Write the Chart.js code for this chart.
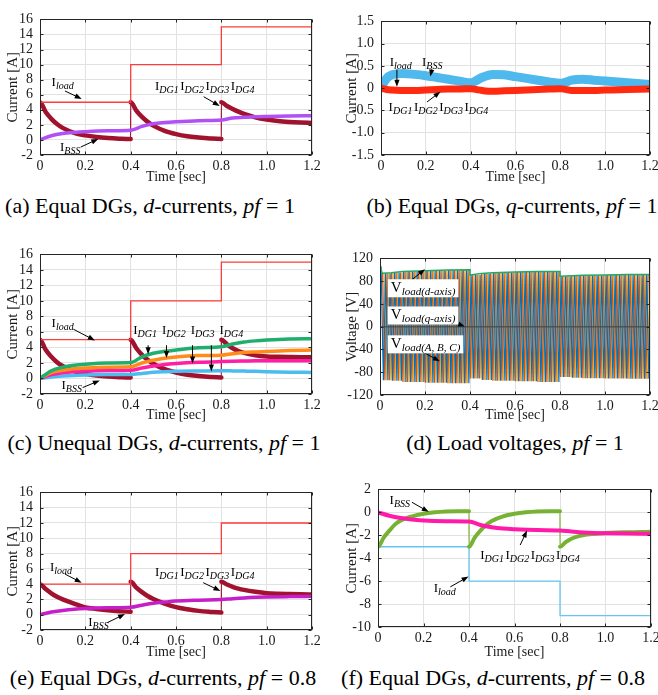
<!DOCTYPE html>
<html>
<head>
<meta charset="utf-8">
<title>DG / BSS currents</title>
<script src="https://cdn.jsdelivr.net/npm/chart.js@4.4.1/dist/chart.umd.min.js"></script>
<style>
  body { margin: 0; width: 658px; height: 695px; position: relative; overflow: hidden; background: #fff; font-family: "Liberation Serif", serif; }
  canvas { position: absolute; }
  .cap { position: absolute; font-size: 22px; line-height: 24px; white-space: nowrap; transform: translateX(-50%); color: #000; }
</style>
</head>
<body>
<canvas id="pa"></canvas>
<canvas id="pb"></canvas>
<canvas id="pc"></canvas>
<canvas id="pd"></canvas>
<canvas id="pe"></canvas>
<canvas id="pf"></canvas>
<div class="cap" style="left:150px;top:194px">(a) Equal DGs, <i>d</i>-currents, <i>pf</i> = 1</div>
<div class="cap" style="left:512px;top:194px">(b) Equal DGs, <i>q</i>-currents, <i>pf</i> = 1</div>
<div class="cap" style="left:164px;top:431px">(c) Unequal DGs, <i>d</i>-currents, <i>pf</i> = 1</div>
<div class="cap" style="left:515px;top:431px">(d) Load voltages, <i>pf</i> = 1</div>
<div class="cap" style="left:163px;top:666px">(e) Equal DGs, <i>d</i>-currents, <i>pf</i> = 0.8</div>
<div class="cap" style="left:493px;top:666px">(f) Equal DGs, <i>d</i>-currents, <i>pf</i> = 0.8</div>
<script>
// ---- time grids [sec] ----
const tStep = [0, 0.4, 0.4, 0.8, 0.8, 1.2];
const tDecay = [0, 0, 0.025, 0.05, 0.075, 0.1, 0.15, 0.2, 0.25, 0.3, 0.35, 0.4,
  0.4, 0.425, 0.45, 0.475, 0.5, 0.55, 0.6, 0.65, 0.7, 0.75, 0.8,
  0.8, 0.825, 0.85, 0.875, 0.9, 0.95, 1.0, 1.05, 1.1, 1.15, 1.2];
const tRise = [0, 0.05, 0.1, 0.15, 0.2, 0.3, 0.4, 0.45, 0.5, 0.55, 0.6, 0.7, 0.8, 0.85, 0.9, 0.95, 1.0, 1.1, 1.2];
const tQ = [0, 0.025, 0.05, 0.1, 0.15, 0.2, 0.25, 0.3, 0.35, 0.4, 0.425, 0.45, 0.5, 0.55, 0.6, 0.65, 0.7, 0.75, 0.8,
  0.825, 0.85, 0.9, 0.95, 1.0, 1.1, 1.2];

// (a) equal DGs, d-currents, pf = 1
const aLoad = [5, 5, 10, 10, 15, 15];
const aBss = [0, 5.0, 3.7, 2.8, 2.1, 1.6, 0.95, 0.6, 0.38, 0.25, 0.17, 0.12,
  5.0, 3.9, 3.05, 2.4, 1.9, 1.2, 0.77, 0.48, 0.32, 0.2, 0.13,
  5.0, 4.5, 4.1, 3.75, 3.45, 3.0, 2.7, 2.5, 2.38, 2.3, 2.25];
const aDg = [0, 0.55, 0.85, 1.0, 1.1, 1.22, 1.3, 1.8, 2.15, 2.3, 2.4, 2.55, 2.65, 2.9, 3.0, 3.08, 3.12, 3.18, 3.2];

// (b) equal DGs, q-currents, pf = 1
const bBss = [0.02, 0.22, 0.3, 0.33, 0.31, 0.28, 0.24, 0.2, 0.16, 0.12,
  0.17, 0.24, 0.31, 0.3, 0.26, 0.22, 0.18, 0.14, 0.11,
  0.14, 0.18, 0.2, 0.18, 0.16, 0.12, 0.08];
const bDg = [0, -0.03, -0.04, -0.05, -0.05, -0.04, -0.03, -0.02, -0.02, -0.01,
  -0.03, -0.05, -0.07, -0.06, -0.05, -0.04, -0.03, -0.02, -0.01,
  -0.03, -0.05, -0.05, -0.05, -0.04, -0.03, -0.02];

// (c) unequal DGs, d-currents, pf = 1
const cLoad = [5, 5, 10, 10, 15, 15];
const cBss = [0, 5.0, 3.7, 2.8, 2.1, 1.6, 0.95, 0.6, 0.38, 0.25, 0.17, 0.12,
  5.0, 3.9, 3.05, 2.4, 1.9, 1.2, 0.77, 0.48, 0.32, 0.2, 0.13,
  5.0, 4.4, 3.9, 3.55, 3.3, 3.0, 2.85, 2.8, 2.77, 2.75, 2.75];
const cDg1 = [0, 1.0, 1.45, 1.7, 1.85, 2.0, 2.05, 2.8, 3.25, 3.5, 3.67, 3.95, 4.08, 4.45, 4.7, 4.85, 4.95, 5.08, 5.12];
const cDg2 = [0, 0.75, 1.05, 1.25, 1.35, 1.45, 1.5, 2.0, 2.35, 2.6, 2.78, 2.95, 3.0, 3.2, 3.35, 3.42, 3.48, 3.6, 3.67];
const cDg3 = [0, 0.5, 0.75, 0.88, 0.95, 1.02, 1.05, 1.35, 1.6, 1.8, 1.92, 2.08, 2.18, 2.22, 2.25, 2.28, 2.3, 2.3, 2.3];
const cDg4 = [0, 0.2, 0.32, 0.4, 0.45, 0.5, 0.52, 0.65, 0.8, 0.88, 0.93, 0.97, 1.0, 0.98, 0.95, 0.92, 0.88, 0.82, 0.78];

// (d) load voltages, pf = 1  (d-axis envelope, q-axis, 50 Hz three phase)
const vT = [0, 0.01, 0.05, 0.1, 0.2, 0.3, 0.4, 0.4, 0.45, 0.5, 0.6, 0.7, 0.8, 0.8, 0.85, 0.9, 1.0, 1.1, 1.2];
const vD = [106, 94, 95, 97, 98.5, 99.5, 100, 91, 93.5, 95, 96, 97, 97, 88.5, 89.5, 90.5, 91, 91.5, 91.5];
const vQ = [0, 0, 0, 0, 0, 0, 0, 0, 0, 0, 0, 0, 0, 0, 0, 0, 0, 0, 0];
const vFreq = 50;

// (e) equal DGs, d-currents, pf = 0.8
const eLoad = [4, 4, 8, 8, 12, 12];
const eBss = [0, 4.0, 3.35, 2.8, 2.35, 2.0, 1.45, 0.95, 0.75, 0.58, 0.46, 0.38,
  4.3, 3.55, 2.95, 2.45, 2.05, 1.45, 1.0, 0.72, 0.5, 0.37, 0.28,
  4.3, 3.95, 3.65, 3.42, 3.25, 3.0, 2.82, 2.74, 2.7, 2.67, 2.65];
const eDg = [0, 0.35, 0.55, 0.7, 0.8, 0.9, 0.97, 1.25, 1.5, 1.65, 1.78, 1.9, 1.98, 2.1, 2.2, 2.27, 2.32, 2.37, 2.4];

// (f) equal DGs, pf = 0.8 (second current set)
const fLoad = [-3, -3, -6, -6, -9, -9];
const fBss = [0, -3.0, -2.2, -1.6, -1.05, -0.7, -0.35, -0.13, 0.0, 0.07, 0.1, 0.1,
  -3.0, -2.2, -1.6, -1.1, -0.75, -0.35, -0.13, 0.0, 0.07, 0.1, 0.1,
  -3.0, -2.6, -2.3, -2.12, -2.0, -1.88, -1.8, -1.76, -1.74, -1.72, -1.7];
const fDg = [0, -0.3, -0.5, -0.62, -0.72, -0.78, -0.8, -1.1, -1.3, -1.42, -1.48, -1.55, -1.58, -1.68, -1.75, -1.8, -1.82, -1.85, -1.87];

// ---- helpers ----
function pts(ts, vs) {
  // a repeated time is a jump: nudge it a hair so the curve stays sortable
  return ts.map((t, i) => ({ x: (i > 0 && t === ts[i - 1]) ? t + 0.0001 : t, y: vs[i] }));
}

function envAt(t) {
  let v = vD[0];
  for (let i = 0; i < vT.length; i++) if (vT[i] <= t) v = vD[i];
  return v;
}

function phasePeaks(shift) {
  const out = [];
  for (let k = 0; ; k++) {
    const t = (0.25 + shift + k * 0.5) / vFreq;
    if (t > 1.2) break;
    out.push({ x: t, y: (k % 2 ? -1 : 1) * envAt(t) });
  }
  return out;
}

function curve(data, color, width) {
  return {
    data, borderColor: color, borderWidth: width, borderCapStyle: 'round', borderJoinStyle: 'round',
    cubicInterpolationMode: 'monotone',
    segment: { borderWidth: c => (c.p1.parsed.x - c.p0.parsed.x < 0.001 ? 1.2 : width) }
  };
}

function step(data, color) {
  return { data, borderColor: color, borderWidth: 1.3, tension: 0, cubicInterpolationMode: 'default' };
}

function drawArrow(ctx, x1, y1, x2, y2) {
  const ang = Math.atan2(y2 - y1, x2 - x1);
  ctx.strokeStyle = '#000';
  ctx.fillStyle = '#000';
  ctx.lineWidth = 1;
  ctx.beginPath();
  ctx.moveTo(x1, y1);
  ctx.lineTo(x2 - 5 * Math.cos(ang), y2 - 5 * Math.sin(ang));
  ctx.stroke();
  ctx.beginPath();
  ctx.moveTo(x2, y2);
  ctx.lineTo(x2 - 7 * Math.cos(ang) + 2.6 * Math.sin(ang), y2 - 7 * Math.sin(ang) - 2.6 * Math.cos(ang));
  ctx.lineTo(x2 - 7 * Math.cos(ang) - 2.6 * Math.sin(ang), y2 - 7 * Math.sin(ang) + 2.6 * Math.cos(ang));
  ctx.closePath();
  ctx.fill();
}

function drawLabel(ctx, px, py, l) {
  const mainF = (l.box ? 15 : 13) + 'px "Liberation Serif"';
  const subF = 'italic ' + (l.box ? 11 : 10) + 'px "Liberation Serif"';
  const gap = l.gap || 1.5;
  let w = 0;
  l.parts.forEach(([m, s], i) => {
    ctx.font = mainF; w += ctx.measureText(m).width;
    ctx.font = subF; w += ctx.measureText(s).width + (i < l.parts.length - 1 ? gap : 0);
  });
  if (l.box) {
    ctx.fillStyle = '#fff';
    ctx.fillRect(px - 3, py - 13, w + 6, 18);
  }
  ctx.fillStyle = '#000';
  ctx.textAlign = 'left';
  ctx.textBaseline = 'alphabetic';
  let cx = px;
  l.parts.forEach(([m, s]) => {
    ctx.font = mainF; ctx.fillText(m, cx, py); cx += ctx.measureText(m).width;
    ctx.font = subF; ctx.fillText(s, cx, py + 3); cx += ctx.measureText(s).width + gap;
  });
}

const notesPlugin = {
  id: 'notes',
  afterDatasetsDraw(chart, args, opts) {
    const { ctx, scales: { x, y } } = chart;
    ctx.save();
    (opts.arrows || []).forEach(a => drawArrow(ctx, x.getPixelForValue(a[0]), y.getPixelForValue(a[1]),
      x.getPixelForValue(a[2]), y.getPixelForValue(a[3])));
    (opts.labels || []).forEach(l => drawLabel(ctx, x.getPixelForValue(l.x), y.getPixelForValue(l.y), l));
    ctx.restore();
  },
  afterDraw(chart) {
    // matlab style box with inward ticks
    const { ctx, chartArea: a, scales: { x, y } } = chart;
    const l = Math.round(a.left) + 0.5, r = Math.round(a.right) - 0.5;
    const t = Math.round(a.top) + 0.5, b = Math.round(a.bottom) - 0.5;
    ctx.save();
    ctx.strokeStyle = '#262626';
    ctx.lineWidth = 1;
    ctx.strokeRect(l, t, r - l, b - t);
    ctx.beginPath();
    x.ticks.forEach(tk => {
      const px = Math.round(x.getPixelForValue(tk.value)) + 0.5;
      ctx.moveTo(px, b); ctx.lineTo(px, b - 3);
      ctx.moveTo(px, t); ctx.lineTo(px, t + 3);
    });
    y.ticks.forEach(tk => {
      const py = Math.round(y.getPixelForValue(tk.value)) + 0.5;
      ctx.moveTo(l, py); ctx.lineTo(l + 3, py);
      ctx.moveTo(r, py); ctx.lineTo(r - 3, py);
    });
    ctx.stroke();
    ctx.restore();
  }
};

const font = { family: '"Liberation Serif", serif', size: 14 };
const dec = v => (Math.abs(v) < 1e-9 ? '0' : v.toFixed(1));
const int = v => String(Math.round(v));

function makePanel(id, box, yAx, datasets, notes) {
  const cv = document.getElementById(id);
  cv.width = box.cr - box.cl;
  cv.height = box.cb - box.ct;
  cv.style.left = box.cl + 'px';
  cv.style.top = box.ct + 'px';
  new Chart(cv, {
    type: 'line',
    data: { datasets },
    options: {
      responsive: false,
      animation: false,
      devicePixelRatio: 1,
      layout: { padding: { left: 0, bottom: 0, top: box.pt - box.ct, right: box.cr - box.pr } },
      elements: { point: { radius: 0 } },
      plugins: { legend: { display: false }, tooltip: { enabled: false }, notes },
      scales: {
        x: {
          type: 'linear', min: 0, max: 1.2,
          afterFit: s => { s.height = box.cb - box.pb; },
          grid: { color: '#e2e2e2', drawTicks: false },
          border: { display: false },
          ticks: { stepSize: 0.2, padding: 3, maxRotation: 0, autoSkip: false, color: '#1a1a1a', font, callback: dec },
          title: { display: true, text: 'Time [sec]', color: '#1a1a1a', padding: 0, font: { family: font.family, size: 14 } }
        },
        y: {
          type: 'linear', min: yAx.min, max: yAx.max,
          afterFit: s => { s.width = box.pl - box.cl; },
          grid: { color: '#e2e2e2', drawTicks: false },
          border: { display: false },
          ticks: { stepSize: yAx.step, padding: 7, autoSkip: false, color: '#1a1a1a', font, callback: yAx.fmt },
          title: { display: true, text: yAx.title, color: '#1a1a1a', padding: 0, font: { family: font.family, size: 15 } }
        }
      }
    },
    plugins: [notesPlugin]
  });
}

const DG4 = [['I', 'DG1'], ['I', 'DG2'], ['I', 'DG3'], ['I', 'DG4']];
const currentAx = { min: -2, max: 16, step: 2, fmt: int, title: 'Current [A]' };
const DARK = '#a0122e';

makePanel('pa', { cl: 4, ct: 4, cr: 325, cb: 186, pl: 40, pt: 14, pr: 312, pb: 155 }, currentAx, [
  step(pts(tStep, aLoad), '#ff3b3b'),
  curve(pts(tRise, aDg), '#b050f5', 3.5),
  curve(pts(tDecay, aBss), DARK, 4.5)
], {
  labels: [
    { x: 0.051, y: 7.15, parts: [['I', 'load']] },
    { x: 0.507, y: 6.64, parts: DG4 },
    { x: 0.088, y: -1.45, parts: [['I', 'BSS']] }
  ],
  arrows: [[0.11, 6.5, 0.184, 5.45], [0.722, 5.74, 0.793, 4.51], [0.18, -0.94, 0.257, 0.13]]
});

makePanel('pb', { cl: 343, ct: 6, cr: 668, cb: 186, pl: 381, pt: 17, pr: 650, pb: 155 },
  { min: -1.5, max: 1.5, step: 0.5, fmt: dec, title: 'Current [A]' }, [
  curve(pts(tQ, bDg), '#ff2a10', 7),
  curve(pts(tQ, bBss), '#4fb8ec', 9)
], {
  labels: [
    { x: 0.039, y: 0.49, parts: [['I', 'load']] },
    { x: 0.183, y: 0.49, parts: [['I', 'BSS']] },
    { x: 0.034, y: -0.52, parts: DG4 }
  ],
  arrows: [[0.071, 0.42, 0.071, 0.03], [0.227, 0.43, 0.22, 0.26], [0.205, -0.31, 0.265, -0.08]]
});

makePanel('pc', { cl: 4, ct: 239, cr: 325, cb: 424, pl: 40, pt: 249, pr: 312, pb: 394 }, currentAx, [
  step(pts(tStep, cLoad), '#ff3b3b'),
  curve(pts(tRise, cDg1), '#1fae6e', 3.5),
  curve(pts(tRise, cDg2), '#ff8c1a', 3.5),
  curve(pts(tRise, cDg3), '#ff1fa5', 3.5),
  curve(pts(tRise, cDg4), '#4cbcf0', 3.5),
  curve(pts(tDecay, cBss), DARK, 4.5)
], {
  labels: [
    { x: 0.051, y: 6.65, parts: [['I', 'load']] },
    { x: 0.411, y: 5.73, parts: DG4, gap: 5 },
    { x: 0.095, y: -1.3, parts: [['I', 'BSS']] }
  ],
  arrows: [[0.147, 6.36, 0.242, 4.91], [0.477, 4.29, 0.477, 3.13], [0.558, 4.29, 0.558, 2.63],
    [0.673, 4.29, 0.673, 1.93], [0.756, 4.29, 0.756, 0.9], [0.188, -1.17, 0.264, -0.26]]
});

makePanel('pd', { cl: 343, ct: 243, cr: 668, cb: 424, pl: 380, pt: 253, pr: 650, pb: 395 },
  { min: -120, max: 120, step: 40, fmt: int, title: 'Voltage [V]' }, [
  { data: pts(vT, vQ), borderColor: 'rgba(70,70,70,0.75)', borderWidth: 1.5, tension: 0 },
  { data: pts(vT, vD), borderColor: '#22a86a', borderWidth: 1.5, tension: 0 },
  { data: phasePeaks(0), borderColor: '#0072bd', borderWidth: 1.2, tension: 0 },
  { data: phasePeaks(1 / 3), borderColor: '#d95319', borderWidth: 1.2, tension: 0 },
  { data: phasePeaks(2 / 3), borderColor: '#edb120', borderWidth: 1.2, tension: 0 }
], {
  labels: [
    { x: 0.048, y: 60.5, parts: [['V', 'load(d-axis)']], box: true },
    { x: 0.048, y: 12.7, parts: [['V', 'load(q-axis)']], box: true },
    { x: 0.048, y: -38, parts: [['V', 'load(A, B, C)']], box: true }
  ],
  arrows: [[0.14, 82, 0.2, 101], [0.295, 12.7, 0.377, 0.3], [0.192, -44.9, 0.266, -60.7]]
});

makePanel('pe', { cl: 4, ct: 477, cr: 325, cb: 661, pl: 40, pt: 487, pr: 312, pb: 630 }, currentAx, [
  step(pts(tStep, eLoad), '#ff3b3b'),
  curve(pts(tRise, eDg), '#c41fc8', 3.5),
  curve(pts(tDecay, eBss), DARK, 4.5)
], {
  labels: [
    { x: 0.044, y: 5.74, parts: [['I', 'load']] },
    { x: 0.507, y: 5.1, parts: DG4 },
    { x: 0.213, y: -1.46, parts: [['I', 'BSS']] }
  ],
  arrows: [[0.11, 5.32, 0.184, 4.19], [0.72, 4.19, 0.796, 3.1], [0.297, -1.04, 0.375, 0.09]]
});

makePanel('pf', { cl: 343, ct: 474, cr: 668, cb: 661, pl: 378, pt: 484, pr: 651, pb: 627 },
  { min: -10, max: 2, step: 2, fmt: int, title: 'Current [A]' }, [
  curve(pts(tRise, fDg), '#ff1aa8', 4),
  curve(pts(tDecay, fBss), '#78b232', 4),
  step(pts(tStep, fLoad), '#66c6f2')
], {
  labels: [
    { x: 0.051, y: 0.71, parts: [['I', 'BSS']] },
    { x: 0.449, y: -4.11, parts: DG4 },
    { x: 0.245, y: -6.92, parts: [['I', 'load']] }
  ],
  arrows: [[0.149, 0.88, 0.223, 0.04], [0.625, -2.85, 0.655, -1.59], [0.318, -6.5, 0.398, -5.6]]
});
</script>
</body>
</html>
